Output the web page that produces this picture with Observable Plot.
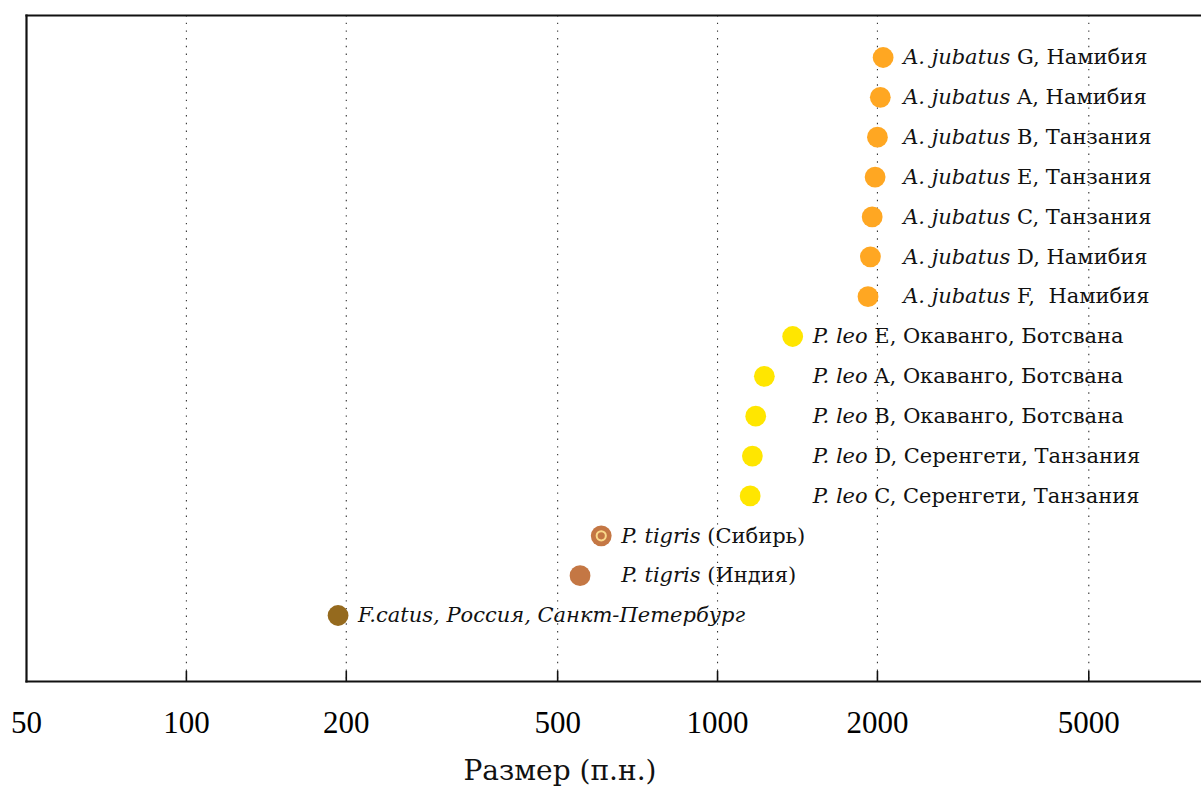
<!DOCTYPE html>
<html>
<head>
<meta charset="utf-8">
<script src="https://cdn.jsdelivr.net/npm/d3@7"></script>
<script src="https://cdn.jsdelivr.net/npm/@observablehq/plot@0.6"></script>
<style>
  html, body { margin: 0; padding: 0; background: #fff; overflow: hidden; }
  #chart text { white-space: pre; }
</style>
</head>
<body>
<div id="chart"></div>
<script>
// ---- data (top row to bottom row) ----
const italicParts = [
  "A. jubatus", "A. jubatus", "A. jubatus", "A. jubatus", "A. jubatus", "A. jubatus", "A. jubatus",
  "P. leo", "P. leo", "P. leo", "P. leo", "P. leo",
  "P. tigris", "P. tigris",
  "F.catus, Россия, Санкт-Петербург"
];
const plainParts = [
  " G, Намибия", " A, Намибия", " B, Танзания", " E, Танзания", " C, Танзания", " D, Намибия", " F,  Намибия",
  " E, Окаванго, Ботсвана", " A, Окаванго, Ботсвана", " B, Окаванго, Ботсвана", " D, Серенгети, Танзания", " C, Серенгети, Танзания",
  " (Сибирь)", " (Индия)",
  ""
];
const groups = [
  "jubatus", "jubatus", "jubatus", "jubatus", "jubatus", "jubatus", "jubatus",
  "leo", "leo", "leo", "leo", "leo",
  "tigris", "tigris",
  "catus"
];
const sizes = [2050, 2025, 2000, 1980, 1955, 1940, 1920, 1385, 1225, 1180, 1163, 1152, 604, 551, 193];
const ringed = [false, false, false, false, false, false, false, false, false, false, false, false, true, false, false];

const groupNames = ["jubatus", "leo", "tigris", "catus"];
const groupColors = ["#ffa722", "#ffe600", "#c47744", "#956a1e"];

const tickValues = [50, 100, 200, 500, 1000, 2000, 5000];
const gridValues = [100, 200, 500, 1000, 2000, 5000];
const xDomain = [50, 8150];
const xTitle = "Размер (п.н.)";

// ---- table ----
const rows = sizes.map((v, i) => ({
  id: italicParts[i] + plainParts[i],
  size: v,
  group: groups[i],
  ringed: ringed[i]
}));
const groupMax = d3.rollup(rows, v => d3.max(v, d => d.size), d => d.group);
rows.forEach(d => d.labelX = groupMax.get(d.group));

const labelFont = "'DejaVu Serif', 'Liberation Serif', serif";
const tickFont = "'Liberation Serif', 'DejaVu Serif', serif";

const chart = Plot.plot({
  width: 1201,
  height: 790,
  marginLeft: 26,
  marginRight: 0,
  marginTop: 15,
  marginBottom: 109,
  style: { fontFamily: labelFont, background: "#fff", color: "#000" },
  x: { type: "log", domain: xDomain },
  y: { type: "point", domain: rows.map(d => d.id), padding: 0, round: false, insetTop: 42, insetBottom: 66, axis: null },
  color: { domain: groupNames, range: groupColors },
  marks: [
    Plot.gridX(gridValues, { stroke: "#333", strokeOpacity: 1, strokeWidth: 1.1, strokeDasharray: "1.4,6.3" }),
    Plot.ruleX(gridValues, { x: d => d, insetTop: 656, stroke: "#111", strokeWidth: 1.6 }),
    Plot.frame({ anchor: "top", strokeWidth: 2.2, stroke: "#111" }),
    Plot.frame({ anchor: "left", strokeWidth: 2.2, stroke: "#111" }),
    Plot.frame({ anchor: "bottom", strokeWidth: 2.2, stroke: "#111" }),
    Plot.axisX(tickValues, {
      anchor: "bottom", tickSize: 0, tickPadding: 29, label: null,
      tickFormat: d => String(d), fontSize: 31, fontFamily: tickFont, fill: "#000"
    }),
    Plot.dot(rows, { x: "size", y: "id", r: 10.4, fill: "group", stroke: null }),
    Plot.dot(rows.filter(d => d.ringed), { x: "size", y: "id", r: 4.6, fill: "none", stroke: "#f9d98a", strokeWidth: 2 }),
    Plot.text(rows, {
      x: "labelX", y: "id", text: "id", dx: 20, textAnchor: "start",
      fontSize: 21, fill: "#111"
    }),
    Plot.text([xTitle], {
      frameAnchor: "bottom", dx: -54, dy: 90, lineAnchor: "middle",
      fontSize: 28, fill: "#111"
    })
  ]
});

document.getElementById("chart").appendChild(chart);

// mixed italic / upright labels
const idIndex = new Map(rows.map((d, i) => [d.id, i]));
d3.select(chart).selectAll("text").each(function() {
  const i = idIndex.get(this.textContent);
  if (i === undefined) return;
  const t = d3.select(this);
  t.text(null);
  t.append("tspan").style("font-style", "italic").text(italicParts[i]);
  if (plainParts[i]) t.append("tspan").style("font-style", "normal").text(plainParts[i]);
});
</script>
</body>
</html>
